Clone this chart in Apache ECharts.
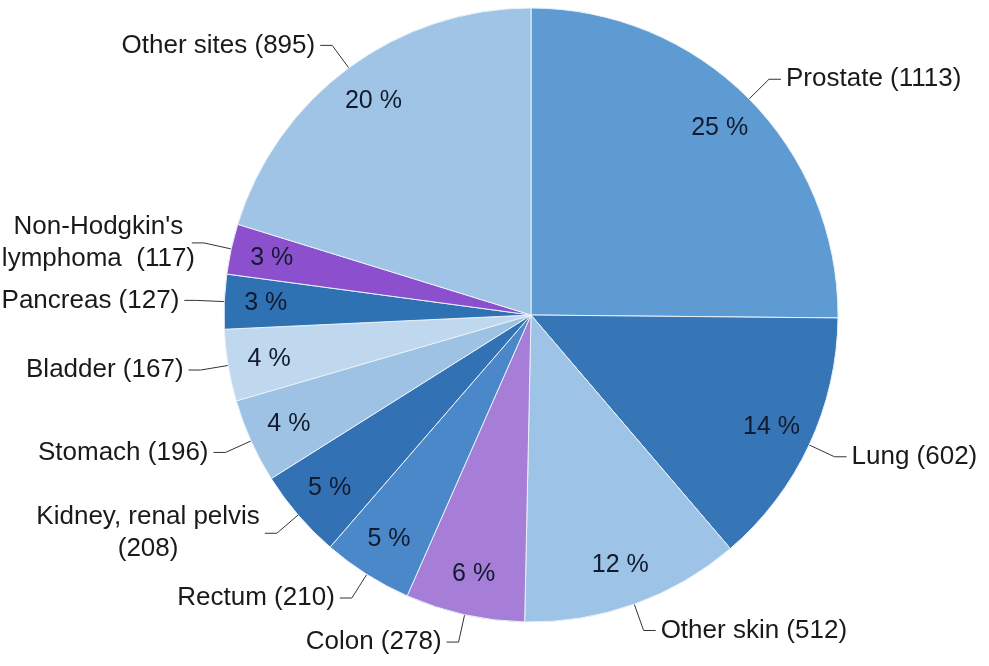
<!DOCTYPE html>
<html>
<head>
<meta charset="utf-8">
<script src="https://cdn.jsdelivr.net/npm/echarts@6/dist/echarts.min.js"></script>
<style>
html,body{margin:0;padding:0;background:#fff;}
#chart{width:989px;height:666px;}
</style>
</head>
<body>
<div id="chart"></div>
<script>
// Cancer sites (clockwise from top)
const categories = ['Prostate', 'Lung', 'Other skin', 'Colon', 'Rectum', 'Kidney, renal pelvis', 'Stomach', 'Bladder', 'Pancreas', "Non-Hodgkin's lymphoma", 'Other sites'];
const values = [1113, 602, 512, 278, 210, 208, 196, 167, 127, 117, 895];
const percentLabels = ['25 %', '14 %', '12 %', '6 %', '5 %', '5 %', '4 %', '4 %', '3 %', '3 %', '20 %'];
const labelLines1 = ['Prostate (1113)', 'Lung (602)', 'Other skin (512)', 'Colon (278)', 'Rectum (210)', 'Kidney, renal pelvis', 'Stomach (196)', 'Bladder (167)', 'Pancreas (127)', "Non-Hodgkin's", 'Other sites (895)'];
const labelLines2 = ['', '', '', '', '', '(208)', '', '', '', 'lymphoma  (117)', ''];
const colors = ['#5f9bd3', '#3676b6', '#9dc3e6', '#a67ed8', '#4a88ca', '#3272b4', '#9ec2e4', '#bfd8ee', '#2f72b4', '#8c50cf', '#a0c4e6'];

const chart = echarts.init(document.getElementById('chart'));
const FONT = 'Liberation Sans, Arial, sans-serif';
const FS = 26;
const mainData = categories.map((c, i) => ({ name: c, value: values[i], itemStyle: { color: colors[i] } }));
const pctData = categories.map((c, i) => ({ name: c, value: values[i] }));

chart.setOption({
  animation: false,
  series: [
    {
      type: 'pie',
      center: [531, 315],
      radius: [0, 307],
      startAngle: 90,
      clockwise: true,
      avoidLabelOverlap: true,
      itemStyle: { borderColor: '#e8f0f8', borderWidth: 1 },
      label: {
        show: true,
        position: 'outside',
        alignTo: 'none',
        overflow: 'none',
        formatter: p => {
          const i = p.dataIndex;
          if (!labelLines2[i]) return labelLines1[i];
          return '{c|' + labelLines1[i] + '}\n{c|' + labelLines2[i] + '}';
        },
        rich: {
          c: { align: 'center', fontFamily: FONT, fontSize: FS, color: '#1a1a1a', lineHeight: 32 }
        },
        fontFamily: FONT,
        fontSize: FS,
        color: '#1a1a1a',
        lineHeight: 32
      },
      labelLine: { show: true, length: 28, length2: 12, lineStyle: { color: '#333', width: 1 } },
      emphasis: { disabled: true },
      data: mainData
    },
    {
      type: 'pie',
      center: [531, 315],
      radius: [218, 307],
      startAngle: 90,
      clockwise: true,
      silent: true,
      itemStyle: { color: 'rgba(0,0,0,0)' },
      label: {
        show: true,
        position: 'inside',
        formatter: p => percentLabels[p.dataIndex],
        fontFamily: FONT,
        fontSize: 25,
        color: '#111a2e'
      },
      labelLine: { show: false },
      emphasis: { disabled: true },
      data: pctData
    }
  ]
});
</script>
</body>
</html>
